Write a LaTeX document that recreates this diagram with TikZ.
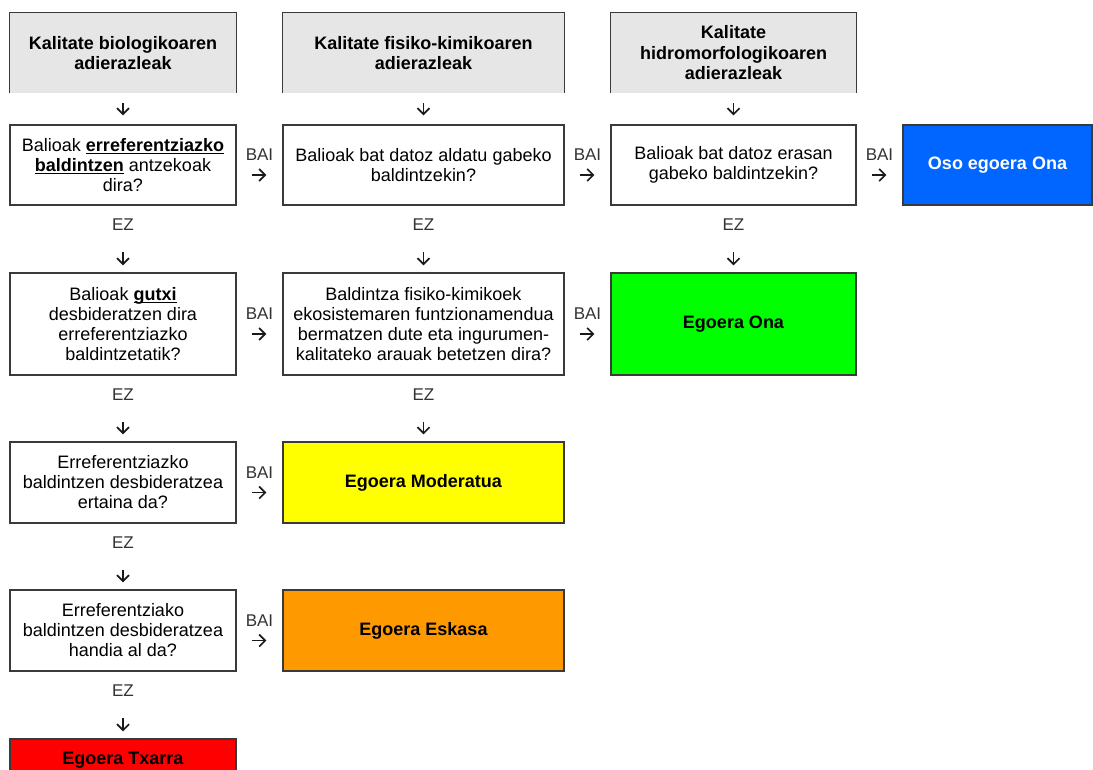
\documentclass[tikz,border=0pt]{standalone}
\usepackage{fontspec}
\setmainfont{Liberation Sans}
\usetikzlibrary{arrows.meta,calc}
\newsavebox\ulbox
\newcommand\undl[1]{\sbox\ulbox{#1}\rlap{\rule[-2.6pt]{\wd\ulbox}{1.3pt}}\usebox\ulbox}
\definecolor{bordc}{HTML}{3A3A3A}
\definecolor{hdrgray}{HTML}{E6E6E6}
\definecolor{lblc}{HTML}{333333}
\definecolor{arrc}{HTML}{1A1A1A}
\definecolor{cblue}{HTML}{0066FF}
\definecolor{cgreen}{HTML}{00FF00}
\definecolor{cyellow}{HTML}{FFFF00}
\definecolor{corange}{HTML}{FF9900}
\definecolor{cred}{HTML}{FF0000}
\begin{document}
\begin{tikzpicture}[x=1pt,y=-1pt,
  every node/.style={font=\fontsize{18}{20}\selectfont},
  qbox/.style={draw=bordc, line width=1.2pt, fill=white, align=center, inner sep=0pt, text=black},
  rbox/.style={qbox, font=\fontsize{18}{20}\selectfont\bfseries},
  hdr/.style={fill=hdrgray, align=center, inner sep=0pt, text=black, font=\fontsize{18}{20.5}\selectfont\bfseries},
  hbord/.style={draw=bordc, line width=1.2pt},
  colA/.style={minimum width=226pt},
  colB/.style={minimum width=281pt},
  colC/.style={minimum width=245pt},
  colD/.style={minimum width=189pt},
  hA/.style={minimum height=80pt},
  hB/.style={minimum height=102pt},
  hC/.style={minimum height=81pt},
  lbl/.style={text=lblc, inner sep=0pt, font=\fontsize{17}{19}\selectfont},
  arr/.style={draw=arrc, line width=1.7pt, -{Straight Barb[length=6pt,width=12pt]}},
  vez/.style={arr, shorten <=46pt, shorten >=7pt},
  hbai/.style={arr, shorten <=15pt, shorten >=16pt},
  vhd/.style={arr, shorten <=10pt, shorten >=9pt}
]
\useasboundingbox (0,0) rectangle (1093,770);
\fill[white] (0,0) rectangle (1093,770);
\clip (0,0) rectangle (1093,770);

% headers
\node[hdr, colA, hA] (h1) at (123,53) {Kalitate biologikoaren\\adierazleak};
\node[hdr, colB, hA] (h2) at (423.5,53) {Kalitate fisiko-kimikoaren\\adierazleak};
\node[hdr, colC, hA] (h3) at (733.5,53) {Kalitate\\hidromorfologikoaren\\adierazleak};
\foreach \h in {h1,h2,h3}{
  \draw[hbord] (\h.south west) |- (\h.north east) -- (\h.south east);
}

% row 1
\node[qbox, colA, hA] (r1c1) at (123,165) {Balioak \undl{\textbf{erreferentziazko}}\\\undl{\textbf{baldintzen}} antzekoak\\dira?};
\node[qbox, colB, hA] (r1c2) at (423.5,165) {Balioak bat datoz aldatu gabeko\\baldintzekin?};
\node[qbox, colC, hA] (r1c3) at (733.5,165) {Balioak bat datoz erasan\\gabeko baldintzekin?};
\node[rbox, colD, hA, fill=cblue, text=white] (r1c4) at (997.5,165) {Oso egoera Ona};

% row 2
\node[qbox, colA, hB] (r2c1) at (123,324) {Balioak \undl{\textbf{gutxi}}\\desbideratzen dira\\erreferentziazko\\baldintzetatik?};
\node[qbox, colB, hB] (r2c2) at (423.5,324) {Baldintza fisiko-kimikoek\\ekosistemaren funtzionamendua\\bermatzen dute eta ingurumen-\\kalitateko arauak betetzen dira?};
\node[rbox, colC, hB, fill=cgreen] (r2c3) at (733.5,324) {Egoera Ona};

% row 3
\node[qbox, colA, hC] (r3c1) at (123,482.5) {Erreferentziazko\\baldintzen desbideratzea\\ertaina da?};
\node[rbox, colB, hC, fill=cyellow] (r3c2) at (423.5,482.5) {Egoera Moderatua};

% row 4
\node[qbox, colA, hC] (r4c1) at (123,630.5) {Erreferentziako\\baldintzen desbideratzea\\handia al da?};
\node[rbox, colB, hC, fill=corange] (r4c2) at (423.5,630.5) {Egoera Eskasa};

% row 5
\node[rbox, colA, minimum height=42pt, fill=cred] (r5c1) at (123,760) {Egoera Txarra};

% header arrows
\draw[vhd] (h1.south) -- (r1c1.north);
\draw[vhd] (h2.south) -- (r1c2.north);
\draw[vhd] (h3.south) -- (r1c3.north);

% EZ arrows
\draw[vez] (r1c1.south) -- (r2c1.north);
\draw[vez] (r2c1.south) -- (r3c1.north);
\draw[vez] (r3c1.south) -- (r4c1.north);
\draw[vez] (r4c1.south) -- (r5c1.north);
\draw[vez] (r1c2.south) -- (r2c2.north);
\draw[vez] (r2c2.south) -- (r3c2.north);
\draw[vez] (r1c3.south) -- (r2c3.north);

\foreach \n in {r1c1,r2c1,r3c1,r4c1,r1c2,r2c2,r1c3}{
  \node[lbl] at ([yshift=-19pt]\n.south) {EZ};
}

% BAI arrows
\foreach \a/\b in {r1c1/r1c2, r1c2/r1c3, r1c3/r1c4, r2c1/r2c2, r2c2/r2c3, r3c1/r3c2, r4c1/r4c2}{
  \draw[hbai] ([yshift=-10pt]\a.east) -- ([yshift=-10pt]\b.west);
  \path (\a.east) -- (\b.west) node[lbl, midway, yshift=10pt] {BAI};
}
\end{tikzpicture}
\end{document}
